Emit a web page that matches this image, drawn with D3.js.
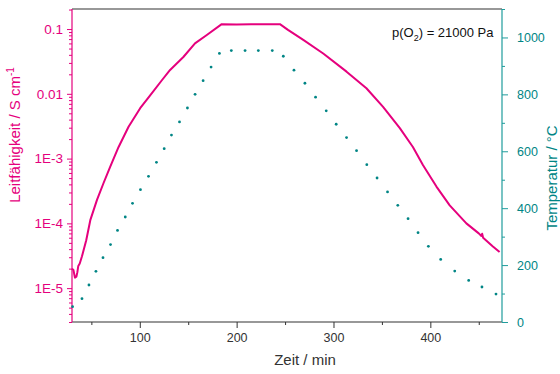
<!DOCTYPE html>
<html>
<head>
<meta charset="utf-8">
<script src="https://cdn.jsdelivr.net/npm/d3@7"></script>
<style>
  html, body { margin: 0; padding: 0; background: #fff; }
  svg { display: block; font-family: "Liberation Sans", Arial, sans-serif; }
</style>
</head>
<body>
<svg id="chart" width="560" height="374"></svg>
<script>
// Conductivity run: time in minutes, conductivity in S/cm
const condTime = [30, 31.5, 33, 34.5, 35.5, 36.5, 38, 40.3, 44.7, 48.9, 55.8, 62.6, 69.5, 78, 88.4,
  100.4, 110.7, 122.8, 131.3, 145, 157, 169.2, 184.6, 200, 215, 230, 244.7, 253, 268.8, 289.4,
  313.5, 334, 351.2, 368.5, 382, 392.5, 406.3, 420, 437.2, 450, 452.7, 453.5, 454.5, 464.6, 471.5];
const condValue = [2.0e-5, 1.9e-5, 1.45e-5, 1.5e-5, 1.75e-5, 2.2e-5, 2.4e-5, 3.1e-5, 5.5e-5, 1.12e-4,
  2.3e-4, 4.2e-4, 7.5e-4, 1.5e-3, 3.1e-3, 6.0e-3, 9.5e-3, 1.62e-2, 2.34e-2, 3.7e-2, 6.0e-2, 8.1e-2,
  0.119, 0.118, 0.119, 0.119, 0.119, 0.097, 0.068, 0.042, 0.022, 0.0122, 6.3e-3, 2.95e-3, 1.51e-3,
  7.9e-4, 3.7e-4, 1.9e-4, 1.0e-4, 7.0e-5, 6.4e-5, 6.9e-5, 6.0e-5, 4.4e-5, 3.6e-5];

// Furnace temperature readings: time in minutes, temperature in °C
const tempTime = [30.6, 40.3, 47.5, 54.7, 62, 69.8, 77, 85, 92.5, 100.7, 109, 117.2, 125.2, 132.7,
  141, 149.2, 157.1, 165.4, 173.6, 182.2, 194.5, 208.7, 222.4, 236.8, 248.2, 259.2, 270.5, 281.5,
  292.5, 302.8, 313.5, 323.8, 334.4, 345, 355.8, 366.4, 377, 387.3, 398, 410.7, 425.2, 439.6, 453.3, 467.8];
const tempValue = [54, 82, 130, 178, 226, 272, 322, 369, 417, 465, 512, 561, 609, 657, 703, 752, 800,
  848, 896, 944, 954, 954, 954, 954, 934, 885, 839, 790, 742, 695, 648, 602, 553, 506, 457, 410, 363,
  314, 266, 220, 179, 146, 123, 98];

// Axis ticks and labels
const condTicks = [1e-5, 1e-4, 1e-3, 0.01, 0.1];
const condTickLabels = ["1E-5", "1E-4", "1E-3", "0.01", "0.1"];
const tempTicks = [0, 200, 400, 600, 800, 1000];
const timeTicks = [100, 200, 300, 400];

const pressureLabel = "= 21000 Pa";

const PINK = "#e5007d";
const TEAL = "#008585";
const TEAL_AXIS = "#1f9c9c";
const DARK = "#333333";

const svg = d3.select("#chart");
const mLeft = 72, mRight = 502, mTop = 9, mBottom = 322;

const x = d3.scaleLinear().domain([30, 474]).range([mLeft, mRight]);
const yL = d3.scaleLog().domain([3e-6, 0.204]).range([mBottom, mTop]);
const yR = d3.scaleLinear().domain([0, 1100]).range([mBottom, mTop]);

// Minor tick positions
const logMinor = [];
for (let e = -6; e <= -1; e++) for (let k = 2; k <= 9; k++) {
  const v = k * Math.pow(10, e);
  if (v >= 3e-6 && v <= 0.204) logMinor.push(v);
}
const tempMinor = d3.range(100, 1101, 200);
const timeMinor = [50, 150, 250, 350, 450];

function styleAxis(g, color, fontColor, fontSize) {
  g.selectAll("path.domain").remove();
  g.selectAll("line").attr("stroke", color).attr("stroke-width", 1);
  g.selectAll("text").attr("fill", fontColor).attr("font-size", fontSize || 12.5)
    .attr("font-family", "Liberation Sans, Arial, sans-serif");
}

// Top frame line
svg.append("line").attr("x1", mLeft).attr("x2", mRight).attr("y1", mTop).attr("y2", mTop)
  .attr("stroke", DARK).attr("stroke-width", 1.2);

// Bottom axis
const gx = svg.append("g").attr("transform", `translate(0,${mBottom})`);
gx.call(d3.axisBottom(x).tickValues(timeTicks).tickSize(6).tickSizeOuter(0).tickPadding(5).tickFormat(d3.format("d")));
styleAxis(gx, DARK, DARK);
const gxm = svg.append("g").attr("transform", `translate(0,${mBottom})`);
gxm.call(d3.axisBottom(x).tickValues(timeMinor).tickSize(3).tickFormat(""));
styleAxis(gxm, DARK, DARK);
svg.append("line").attr("x1", mLeft).attr("x2", mRight).attr("y1", mBottom).attr("y2", mBottom)
  .attr("stroke", DARK).attr("stroke-width", 1.2);

// Left axis (log conductivity)
const gl = svg.append("g").attr("transform", `translate(${mLeft},0)`);
gl.call(d3.axisLeft(yL).tickValues(condTicks).tickSize(5).tickSizeOuter(0).tickPadding(4)
  .tickFormat((d, i) => condTickLabels[i]));
styleAxis(gl, PINK, PINK, 13.5);
const glm = svg.append("g").attr("transform", `translate(${mLeft},0)`);
glm.call(d3.axisLeft(yL).tickValues(logMinor).tickSize(3).tickFormat(""));
styleAxis(glm, PINK, PINK);
svg.append("line").attr("x1", mLeft).attr("x2", mLeft).attr("y1", mTop).attr("y2", mBottom)
  .attr("stroke", PINK).attr("stroke-width", 1.2);

// Right axis (temperature)
const gr = svg.append("g").attr("transform", `translate(${mRight},0)`);
gr.call(d3.axisRight(yR).tickValues(tempTicks).tickSize(6).tickSizeOuter(0).tickPadding(9).tickFormat(d3.format("d")));
styleAxis(gr, TEAL_AXIS, TEAL);
const grm = svg.append("g").attr("transform", `translate(${mRight},0)`);
grm.call(d3.axisRight(yR).tickValues(tempMinor).tickSize(3).tickFormat(""));
styleAxis(grm, TEAL_AXIS, TEAL);
svg.append("line").attr("x1", mRight).attr("x2", mRight).attr("y1", mTop).attr("y2", mBottom)
  .attr("stroke", TEAL_AXIS).attr("stroke-width", 1.2);

// Temperature dots
svg.append("g").selectAll("circle")
  .data(tempTime.map((t, i) => [t, tempValue[i]]))
  .join("circle")
  .attr("cx", d => x(d[0])).attr("cy", d => yR(d[1])).attr("r", 1.4)
  .attr("fill", TEAL);

// Conductivity curve
const line = d3.line().x(d => x(d[0])).y(d => yL(d[1]));
svg.append("path")
  .datum(condTime.map((t, i) => [t, condValue[i]]))
  .attr("d", line)
  .attr("fill", "none").attr("stroke", PINK).attr("stroke-width", 2)
  .attr("stroke-linejoin", "round");

// Axis titles
svg.append("text").attr("x", 305).attr("y", 365).attr("text-anchor", "middle")
  .attr("font-size", 15).attr("fill", DARK).text("Zeit / min");

const lt = svg.append("text").attr("transform", "translate(20,135) rotate(-90)")
  .attr("text-anchor", "middle").attr("font-size", 15).attr("fill", PINK);
lt.append("tspan").text("Leitfähigkeit / S cm");
lt.append("tspan").attr("dy", -6).attr("font-size", 10).text("-1");

svg.append("text").attr("transform", "translate(557,178) rotate(-90)")
  .attr("text-anchor", "middle").attr("font-size", 15).attr("fill", TEAL).text("Temperatur / °C");

// Oxygen partial pressure note
const note = svg.append("text").attr("x", 392).attr("y", 37).attr("font-size", 13).attr("fill", "#111");
note.append("tspan").text("p(O");
note.append("tspan").attr("dy", 4).attr("font-size", 9).text("2");
note.append("tspan").attr("dy", -4).text(") " + pressureLabel);
</script>
</body>
</html>
